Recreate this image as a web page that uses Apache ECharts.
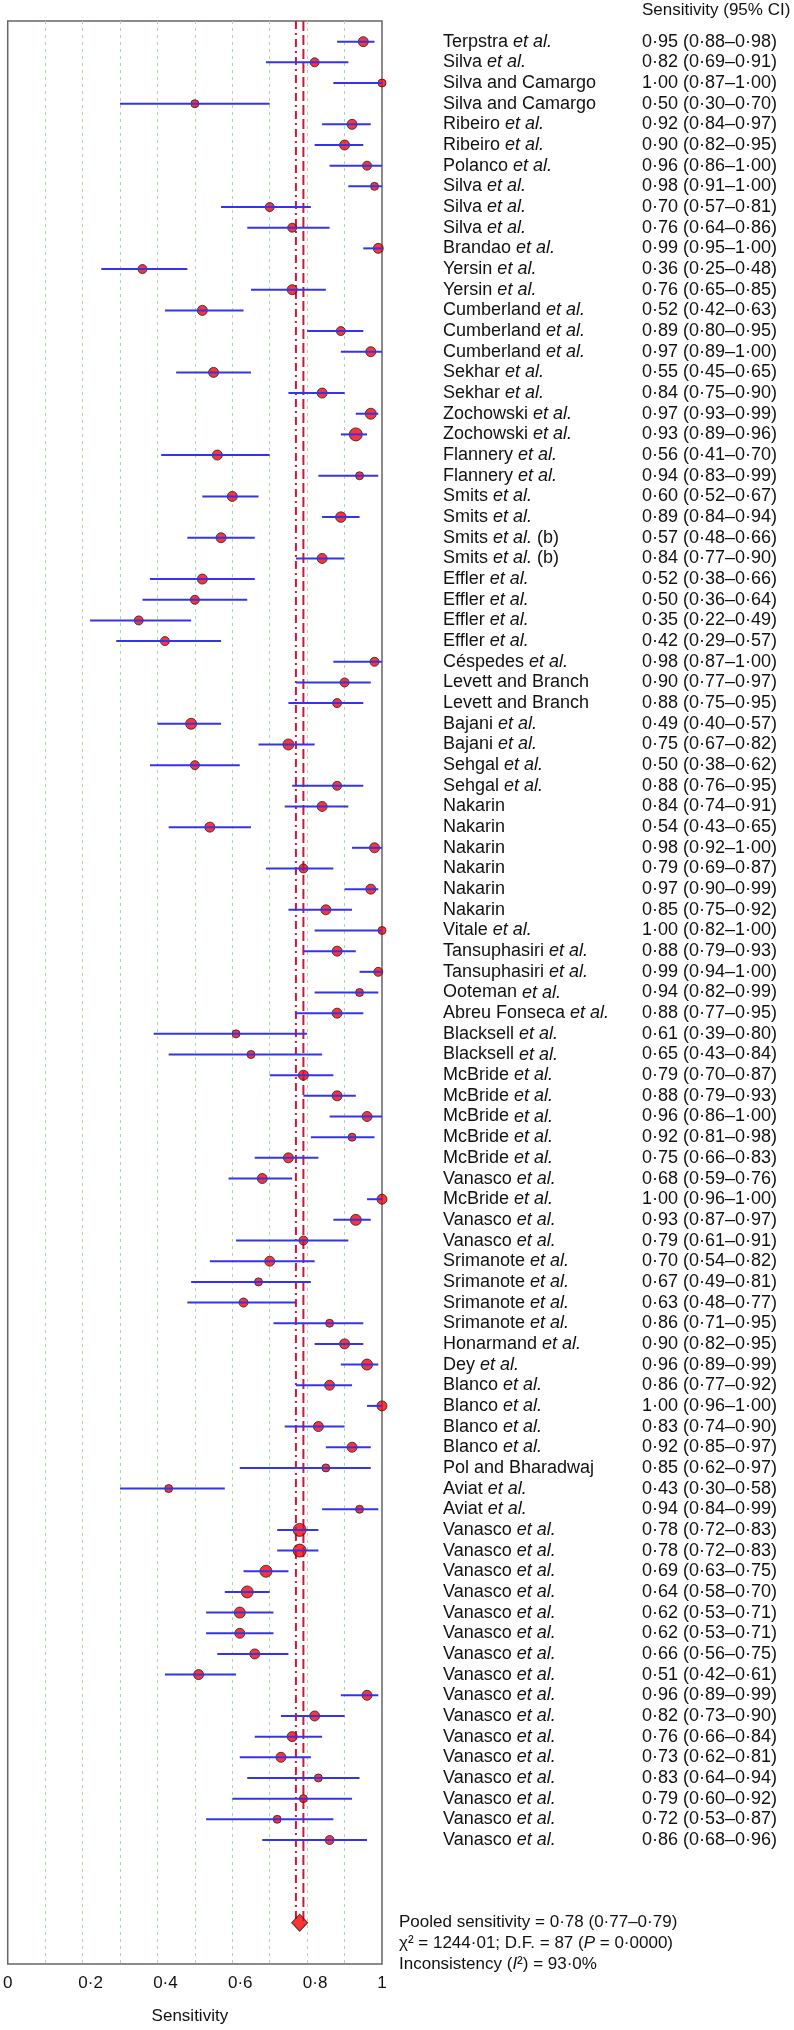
<!DOCTYPE html>
<html>
<head>
<meta charset="utf-8">
<script src="https://cdn.jsdelivr.net/npm/echarts@6/dist/echarts.min.js"></script>
<style>
  html, body { margin: 0; padding: 0; background: #fff; }
  #chart { width: 794px; height: 2030px; }
</style>
</head>
<body>
<div id="chart"></div>
<script>
// study labels, top to bottom
const studies = [
  'Terpstra et al.', 'Silva et al.', 'Silva and Camargo', 'Silva and Camargo', 'Ribeiro et al.',
  'Ribeiro et al.', 'Polanco et al.', 'Silva et al.', 'Silva et al.', 'Silva et al.',
  'Brandao et al.', 'Yersin et al.', 'Yersin et al.', 'Cumberland et al.', 'Cumberland et al.',
  'Cumberland et al.', 'Sekhar et al.', 'Sekhar et al.', 'Zochowski et al.', 'Zochowski et al.',
  'Flannery et al.', 'Flannery et al.', 'Smits et al.', 'Smits et al.', 'Smits et al. (b)',
  'Smits et al. (b)', 'Effler et al.', 'Effler et al.', 'Effler et al.', 'Effler et al.',
  'Céspedes et al.', 'Levett and Branch', 'Levett and Branch', 'Bajani et al.', 'Bajani et al.',
  'Sehgal et al.', 'Sehgal et al.', 'Nakarin', 'Nakarin', 'Nakarin',
  'Nakarin', 'Nakarin', 'Nakarin', 'Vitale et al.', 'Tansuphasiri et al.',
  'Tansuphasiri et al.', 'Ooteman et al.', 'Abreu Fonseca et al.', 'Blacksell et al.', 'Blacksell et al.',
  'McBride et al.', 'McBride et al.', 'McBride et al.', 'McBride et al.', 'McBride et al.',
  'Vanasco et al.', 'McBride et al.', 'Vanasco et al.', 'Vanasco et al.', 'Srimanote et al.',
  'Srimanote et al.', 'Srimanote et al.', 'Srimanote et al.', 'Honarmand et al.', 'Dey et al.',
  'Blanco et al.', 'Blanco et al.', 'Blanco et al.', 'Blanco et al.', 'Pol and Bharadwaj',
  'Aviat et al.', 'Aviat et al.', 'Vanasco et al.', 'Vanasco et al.', 'Vanasco et al.',
  'Vanasco et al.', 'Vanasco et al.', 'Vanasco et al.', 'Vanasco et al.', 'Vanasco et al.',
  'Vanasco et al.', 'Vanasco et al.', 'Vanasco et al.', 'Vanasco et al.', 'Vanasco et al.',
  'Vanasco et al.', 'Vanasco et al.', 'Vanasco et al.'
];

const sens = [
  0.95, 0.82, 1.00, 0.50, 0.92, 0.90, 0.96, 0.98, 0.70, 0.76,
  0.99, 0.36, 0.76, 0.52, 0.89, 0.97, 0.55, 0.84, 0.97, 0.93,
  0.56, 0.94, 0.60, 0.89, 0.57, 0.84, 0.52, 0.50, 0.35, 0.42,
  0.98, 0.90, 0.88, 0.49, 0.75, 0.50, 0.88, 0.84, 0.54, 0.98,
  0.79, 0.97, 0.85, 1.00, 0.88, 0.99, 0.94, 0.88, 0.61, 0.65,
  0.79, 0.88, 0.96, 0.92, 0.75, 0.68, 1.00, 0.93, 0.79, 0.70,
  0.67, 0.63, 0.86, 0.90, 0.96, 0.86, 1.00, 0.83, 0.92, 0.85,
  0.43, 0.94, 0.78, 0.78, 0.69, 0.64, 0.62, 0.62, 0.66, 0.51,
  0.96, 0.82, 0.76, 0.73, 0.83, 0.79, 0.72, 0.86
];

const ciLow = [
  0.88, 0.69, 0.87, 0.30, 0.84, 0.82, 0.86, 0.91, 0.57, 0.64,
  0.95, 0.25, 0.65, 0.42, 0.80, 0.89, 0.45, 0.75, 0.93, 0.89,
  0.41, 0.83, 0.52, 0.84, 0.48, 0.77, 0.38, 0.36, 0.22, 0.29,
  0.87, 0.77, 0.75, 0.40, 0.67, 0.38, 0.76, 0.74, 0.43, 0.92,
  0.69, 0.90, 0.75, 0.82, 0.79, 0.94, 0.82, 0.77, 0.39, 0.43,
  0.70, 0.79, 0.86, 0.81, 0.66, 0.59, 0.96, 0.87, 0.61, 0.54,
  0.49, 0.48, 0.71, 0.82, 0.89, 0.77, 0.96, 0.74, 0.85, 0.62,
  0.30, 0.84, 0.72, 0.72, 0.63, 0.58, 0.53, 0.53, 0.56, 0.42,
  0.89, 0.73, 0.66, 0.62, 0.64, 0.60, 0.53, 0.68
];

const ciHigh = [
  0.98, 0.91, 1.00, 0.70, 0.97, 0.95, 1.00, 1.00, 0.81, 0.86,
  1.00, 0.48, 0.85, 0.63, 0.95, 1.00, 0.65, 0.90, 0.99, 0.96,
  0.70, 0.99, 0.67, 0.94, 0.66, 0.90, 0.66, 0.64, 0.49, 0.57,
  1.00, 0.97, 0.95, 0.57, 0.82, 0.62, 0.95, 0.91, 0.65, 1.00,
  0.87, 0.99, 0.92, 1.00, 0.93, 1.00, 0.99, 0.95, 0.80, 0.84,
  0.87, 0.93, 1.00, 0.98, 0.83, 0.76, 1.00, 0.97, 0.91, 0.82,
  0.81, 0.77, 0.95, 0.95, 0.99, 0.92, 1.00, 0.90, 0.97, 0.97,
  0.58, 0.99, 0.83, 0.83, 0.75, 0.70, 0.71, 0.71, 0.75, 0.61,
  0.99, 0.90, 0.84, 0.81, 0.94, 0.92, 0.87, 0.96
];

// relative study weight (drives marker size)
const studyWeight = [
  4, 3, 2, 2, 4, 4, 3, 2, 3, 3,
  4, 3, 4, 4, 3, 4, 4, 4, 5, 7,
  4, 2, 4, 4.5, 4, 4, 4, 3, 3, 3,
  3, 3, 3, 5, 5, 3, 3, 4, 4, 4,
  3, 4, 4, 2, 4, 3, 2, 4, 2, 2,
  4, 4, 4, 2, 4, 4, 4, 5, 3, 4,
  2, 3, 2, 4, 5, 4, 4, 4, 4, 2,
  2, 2, 7, 7, 6, 6, 5, 4, 4, 4,
  4, 4, 4, 4, 2, 2, 2, 3
];

const pooled = { est: 0.78, low: 0.77, high: 0.79 };
const statsLines = [
  '{n|Pooled sensitivity = 0\u00b778 (0\u00b777\u20130\u00b779)}',
  '{n|\u03c7\u00b2 = 1244\u00b701; D.F. = 87 (}{i|P}{n| = 0\u00b70000)}',
  '{n|Inconsistency (}{i|I}{n|\u00b2) = 93\u00b70%}'
];
const xTicks = [0, 0.2, 0.4, 0.6, 0.8, 1];

const FONT = '"Liberation Sans", Arial, Helvetica, sans-serif';
const nRows = studies.length;
const pooledRow = nRows + 3;
const fmt = v => v.toFixed(2).replace('.', '\u00b7');

const chart = echarts.init(document.getElementById('chart'));

const yBase = {
  type: 'value',
  inverse: true,
  min: -1,
  max: pooledRow + 2,
  interval: 1,
  position: 'right',
  axisLine: { show: false },
  axisTick: { show: false },
  splitLine: { show: false }
};

const rich = {
  n: { fontFamily: FONT, fontSize: 18, color: '#111' },
  i: { fontFamily: FONT, fontSize: 18, color: '#111', fontStyle: 'italic' }
};
const richStats = {
  n: { fontFamily: FONT, fontSize: 17, color: '#111' },
  i: { fontFamily: FONT, fontSize: 17, color: '#111', fontStyle: 'italic' }
};

chart.setOption({
  animation: false,
  graphic: [{
    type: 'text',
    left: 642,
    top: 2,
    style: { text: 'Sensitivity (95% CI)', font: '17px ' + FONT, fill: '#111' }
  }],
  grid: {
    left: 4, right: 412, top: 21, bottom: 64,
    show: true, borderColor: '#666', borderWidth: 1.5, backgroundColor: '#fff'
  },
  xAxis: {
    type: 'value',
    min: 0, max: 1, interval: 0.1,
    name: 'Sensitivity',
    nameLocation: 'middle',
    nameGap: 44,
    nameTextStyle: { fontFamily: FONT, fontSize: 17, color: '#111', padding: [0, 10, 0, 0] },
    axisLine: { show: false },
    axisTick: { show: false },
    axisLabel: {
      fontFamily: FONT, fontSize: 17, color: '#111', margin: 11,
      formatter: v => {
        const t = xTicks.find(k => Math.abs(k - v) < 1e-6);
        if (t === undefined) return '';
        if (t === 0 || t === 1) return '{e|' + t + '}';
        // the original plot draws inner labels slightly right of their tick
        return '{m|' + String(t).replace('.', '\u00b7') + '}';
      },
      rich: {
        e: { fontFamily: FONT, fontSize: 17, color: '#111' },
        m: { fontFamily: FONT, fontSize: 17, color: '#111', padding: [0, 0, 0, 16] }
      }
    },
    splitLine: {
      show: true, showMinLine: false, showMaxLine: false,
      lineStyle: { color: '#a8d8a8', width: 1, type: [3, 4] }
    }
  },
  yAxis: [
    Object.assign({}, yBase, {
      axisLabel: {
        margin: 61, align: 'left',
        formatter: v => {
          if (v < 0 || v >= nRows) return '';
          const s = studies[v];
          const k = s.indexOf(' et al.');
          if (k < 0) return '{n|' + s + '}';
          return '{n|' + s.slice(0, k + 1) + '}{i|et al.}' + (s.length > k + 7 ? '{n|' + s.slice(k + 7) + '}' : '');
        },
        rich: rich
      }
    }),
    Object.assign({}, yBase, {
      axisLabel: {
        margin: 260, align: 'left',
        formatter: v => {
          if (v < 0 || v >= nRows) return '';
          return '{n|' + fmt(sens[v]) + ' (' + fmt(ciLow[v]) + '\u2013' + fmt(ciHigh[v]) + ')}';
        },
        rich: rich
      }
    }),
    Object.assign({}, yBase, {
      axisLabel: {
        margin: 17, align: 'left',
        formatter: v => {
          const k = v - pooledRow;
          return (k >= 0 && k < statsLines.length) ? statsLines[k] : '';
        },
        rich: richStats
      }
    })
  ],
  series: [
    {
      type: 'line',
      data: [[pooled.low, -1], [pooled.low, pooledRow]],
      symbol: 'none',
      lineStyle: { color: '#d2143c', width: 2, type: [8, 4, 2, 4] },
      z: 1
    },
    {
      type: 'line',
      data: [[pooled.high, -1], [pooled.high, pooledRow]],
      symbol: 'none',
      lineStyle: { color: '#d2143c', width: 2, type: [10, 4] },
      z: 1
    },
    {
      type: 'scatter',
      data: sens.map((s, i) => [s, i, studyWeight[i]]),
      symbol: 'circle',
      symbolSize: d => 6 + d[2],
      itemStyle: { color: '#ff0000', borderColor: '#222', borderWidth: 1 },
      z: 2
    },
    {
      type: 'custom',
      data: sens.map((s, i) => [ciLow[i], ciHigh[i], i]),
      encode: { x: [0, 1], y: 2 },
      renderItem: (params, api) => {
        const y = api.value(2);
        const a = api.coord([api.value(0), y]);
        const b = api.coord([api.value(1), y]);
        return {
          type: 'line',
          shape: { x1: a[0], y1: a[1], x2: b[0], y2: b[1] },
          style: { stroke: '#3434ee', lineWidth: 2 }
        };
      },
      z: 3
    },
    {
      type: 'scatter',
      data: [[pooled.est, pooledRow]],
      symbol: 'diamond',
      symbolSize: [16, 17],
      itemStyle: { color: '#ff0000', borderColor: '#222', borderWidth: 1 },
      z: 4
    }
  ]
});
</script>
</body>
</html>
